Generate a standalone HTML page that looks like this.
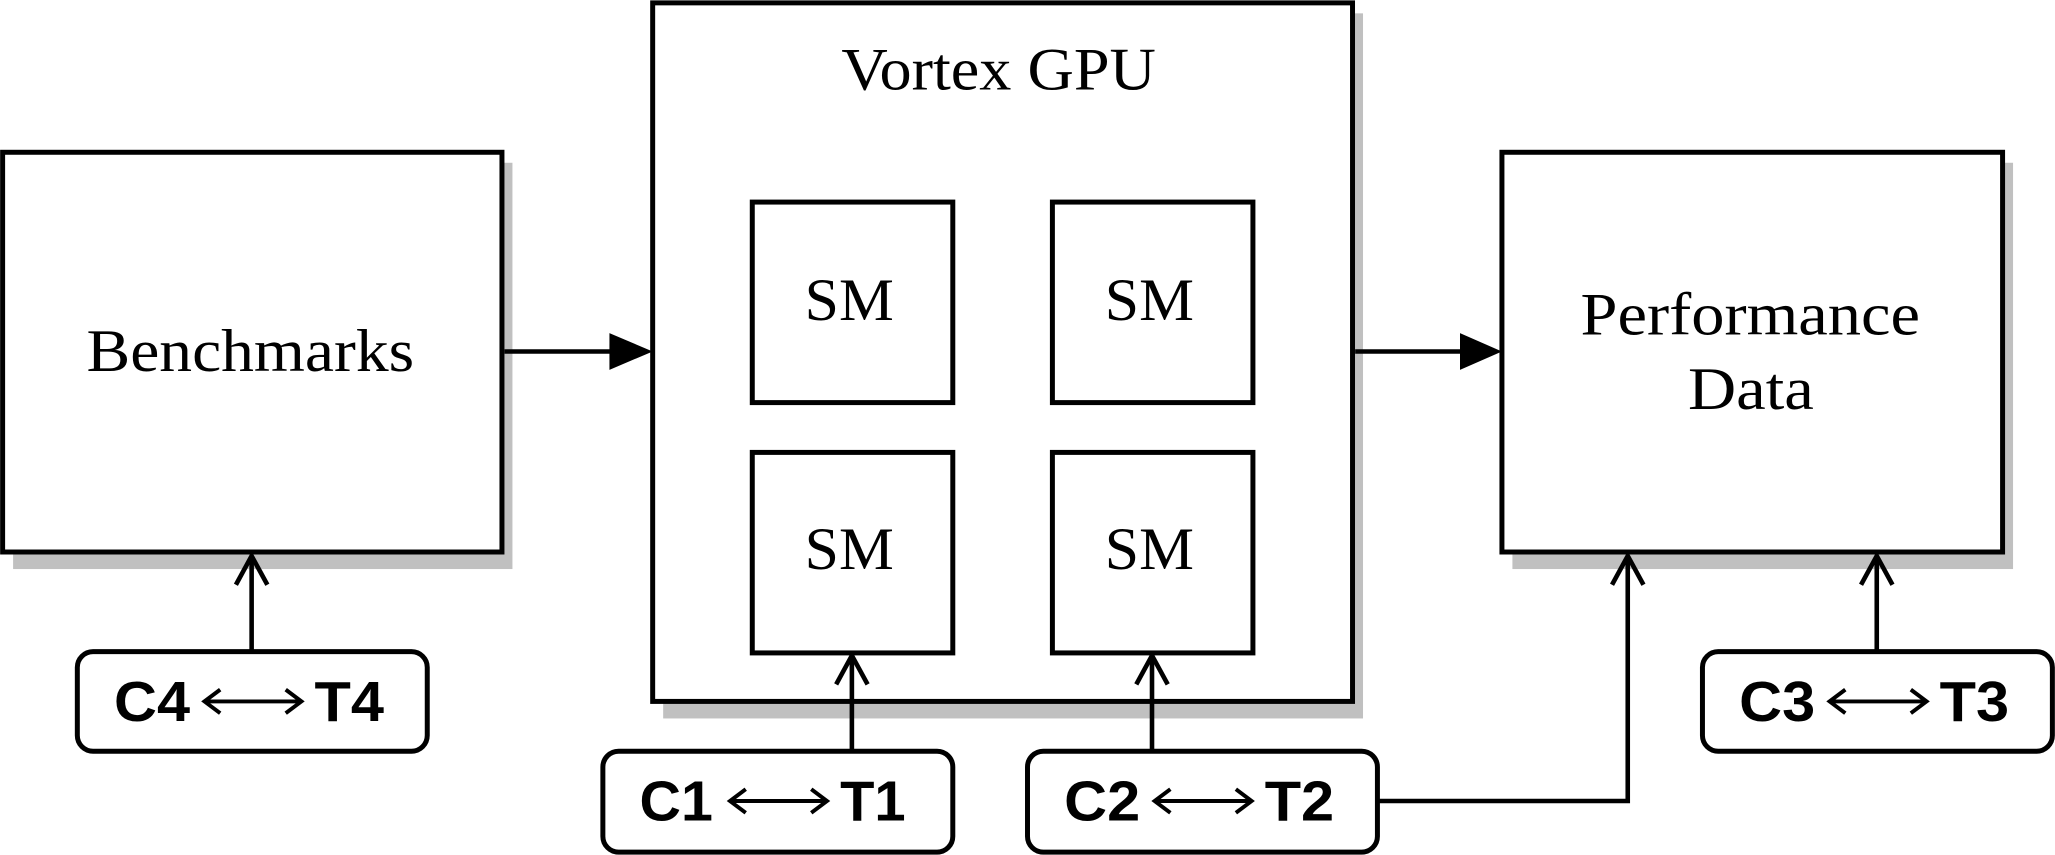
<!DOCTYPE html>
<html><head><meta charset="utf-8"><style>html,body{margin:0;padding:0;background:#fff}svg{display:block}</style></head>
<body>
<svg width="2055" height="855" viewBox="0 0 1568 652" xmlns="http://www.w3.org/2000/svg">
<g fill="#c0c0c0">
<rect x="10" y="124" width="381" height="310"/>
<rect x="506" y="10" width="534" height="538"/>
<rect x="582" y="162" width="153" height="157"/>
<rect x="811" y="162" width="153" height="157"/>
<rect x="582" y="353" width="153" height="157"/>
<rect x="811" y="353" width="153" height="157"/>
<rect x="1154" y="124" width="382" height="310"/>
</g>
<g fill="#fff" stroke="#000" stroke-width="3.8">
<rect x="2" y="116" width="381" height="305"/>
<rect x="498" y="2" width="534" height="533"/>
<rect x="574" y="154" width="153" height="153"/>
<rect x="803" y="154" width="153" height="153"/>
<rect x="574" y="345" width="153" height="153"/>
<rect x="803" y="345" width="153" height="153"/>
<rect x="1146" y="116" width="382" height="305"/>
<rect x="59" y="497" width="267" height="76" rx="12"/>
<rect x="460" y="573" width="267" height="77" rx="12"/>
<rect x="784" y="573" width="267" height="77" rx="12"/>
<rect x="1299" y="497" width="267" height="76" rx="12"/>
</g>
<g font-family="Liberation Serif, serif" font-size="46" fill="#000" lengthAdjust="spacingAndGlyphs">
<text x="66" y="283" textLength="250" lengthAdjust="spacingAndGlyphs">Benchmarks</text>
<text x="642" y="68" textLength="240" lengthAdjust="spacingAndGlyphs">Vortex GPU</text>
<text x="614" y="244" textLength="68" lengthAdjust="spacingAndGlyphs">SM</text>
<text x="843" y="244" textLength="68" lengthAdjust="spacingAndGlyphs">SM</text>
<text x="614" y="434" textLength="68" lengthAdjust="spacingAndGlyphs">SM</text>
<text x="843" y="434" textLength="68" lengthAdjust="spacingAndGlyphs">SM</text>
<text x="1206" y="255" textLength="259" lengthAdjust="spacingAndGlyphs">Performance</text>
<text x="1288" y="312" textLength="96" lengthAdjust="spacingAndGlyphs">Data</text>
</g>
<g stroke="#000" stroke-width="3.5" fill="none">
<line x1="385" y1="268" x2="468" y2="268"/>
<line x1="1034" y1="268" x2="1118" y2="268"/>
<line x1="192" y1="497" x2="192" y2="424"/>
<line x1="650" y1="573" x2="650" y2="500"/>
<line x1="879" y1="573" x2="879" y2="500"/>
<line x1="1432" y1="497" x2="1432" y2="424"/>
<polyline points="1051,611 1242,611 1242,424"/>
<polyline points="180,446 192,424 204,446"/>
<polyline points="638,522 650,500 662,522"/>
<polyline points="867,522 879,500 891,522"/>
<polyline points="1420,446 1432,424 1444,446"/>
<polyline points="1230,446 1242,424 1254,446"/>
</g>
<polygon points="465,254 498,268 465,282" fill="#000"/>
<polygon points="1114,254 1146,268 1114,282" fill="#000"/>
<g font-family="Liberation Sans, sans-serif" font-weight="bold" font-size="43" fill="#000">
<text x="87" y="550" textLength="58" lengthAdjust="spacingAndGlyphs">C4</text><text x="240" y="550" textLength="53" lengthAdjust="spacingAndGlyphs">T4</text>
<text x="488" y="626" textLength="56" lengthAdjust="spacingAndGlyphs">C1</text><text x="641" y="626" textLength="50" lengthAdjust="spacingAndGlyphs">T1</text>
<text x="812" y="626" textLength="58" lengthAdjust="spacingAndGlyphs">C2</text><text x="965" y="626" textLength="53" lengthAdjust="spacingAndGlyphs">T2</text>
<text x="1327" y="550" textLength="58" lengthAdjust="spacingAndGlyphs">C3</text><text x="1480" y="550" textLength="53" lengthAdjust="spacingAndGlyphs">T3</text>
</g>
<g stroke="#000" stroke-width="3" fill="none">
<g id="dbl">
<line x1="156" y1="535" x2="230" y2="535"/>
<polyline points="168,526 156,535 168,544"/>
<polyline points="218,526 230,535 218,544"/>
</g>
<use href="#dbl" x="401" y="76"/>
<use href="#dbl" x="725" y="76"/>
<use href="#dbl" x="1240" y="0"/>
</g>
</svg>
</body></html>
